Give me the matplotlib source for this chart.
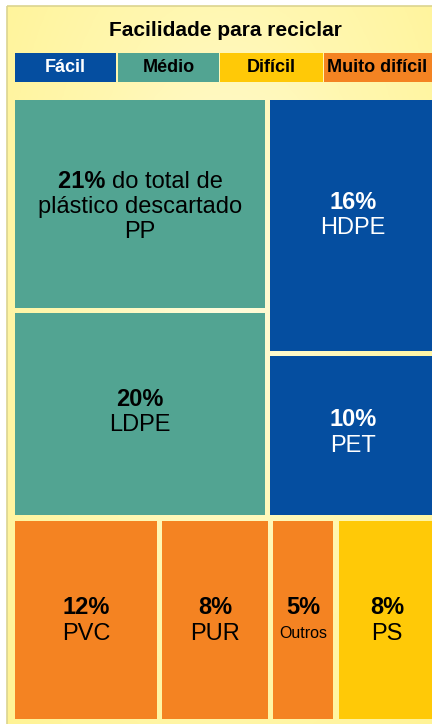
import numpy as np
import matplotlib
matplotlib.use("Agg")
import matplotlib.pyplot as plt
from matplotlib.patches import Rectangle
from matplotlib.colors import LinearSegmentedColormap

plt.rcParams['font.family'] = ['Liberation Sans', 'DejaVu Sans']

# ---------------- data ----------------
title = "Facilidade para reciclar"
levels = ["Fácil", "Médio", "Difícil", "Muito difícil"]
level_colors = ["#054EA0", "#52A492", "#FFC907", "#F48322"]
level_text = ["white", "black", "black", "black"]

names = ["PP", "LDPE", "HDPE", "PET", "PVC", "PUR", "Outros", "PS"]
shares = [21, 20, 16, 10, 12, 8, 5, 8]                       # printed labels (%)
areas = [20.5, 19.9, 16.4, 10.5, 11.3, 8.5, 5.0, 7.8]        # tile areas
level_of = [1, 1, 0, 0, 3, 3, 3, 2]
pp_note = "do total de\nplástico descartado"

# groups of the treemap layout (indexes into the lists above)
top_left = [0, 1]
top_right = [2, 3]
bottom_row = [4, 5, 6, 7]

# label vertical nudges (style)
label_dy = [3, -2, -10, -3, 1, 1, 1, 1]

# ---------------- figure ----------------
W, H = 432, 724
fig = plt.figure(figsize=(W / 100, H / 100), dpi=100)
ax = fig.add_axes([0, 0, 1, 1])
ax.set_xlim(0, W)
ax.set_ylim(H, 0)
ax.axis("off")
fig.patch.set_facecolor("white")

# panel with radial gradient
px0, py0, px1, py1 = 7, 6, 443, 732
yy, xx = np.mgrid[0:200, 0:200]
cx, cy = 100, 80
r = np.sqrt(((xx - cx) / 100) ** 2 + ((yy - cy) / 120) ** 2)
r = np.clip(r / r.max(), 0, 1)
cmap = LinearSegmentedColormap.from_list("bg", ["#FFFCDD", "#FFF7B0", "#FFF394"])
ax.imshow(r, cmap=cmap, extent=[px0, px1, py1, py0], aspect="auto", zorder=0,
          interpolation="bilinear")
ax.add_patch(Rectangle((px0, py0), px1 - px0, py1 - py0, fill=False,
                       edgecolor="#DCD490", linewidth=1.2, zorder=1))
ax.set_xlim(0, W)
ax.set_ylim(H, 0)

# title
ax.text(225, 30, title, ha="center", va="center", fontsize=15,
        fontweight="bold", color="black", zorder=5)

# legend
leg_edges = [(15, 116), (118, 219), (220, 323), (324, 440)]
leg_text_x = [65.5, 168.5, 271.5, 377]
for (a, b), lab, col, tc, tx in zip(leg_edges, levels, level_colors, level_text, leg_text_x):
    ax.add_patch(Rectangle((a, 53), b - a, 29, facecolor=col, edgecolor="none", zorder=2))
    ax.text(tx, 68, lab, ha="center", va="center", fontsize=13, fontweight="bold",
            color=tc, zorder=5)

# ---------------- treemap layout ----------------
gap = 5.5
hg = gap / 2
rx0, ry0, rx1, ry1 = 15 - hg, 100 - hg, 437.75, 719 + hg
total = sum(areas)
top_sum = sum(areas[i] for i in top_left + top_right)
y_split = ry0 + (ry1 - ry0) * top_sum / total
left_sum = sum(areas[i] for i in top_left)
x_split = rx0 + (rx1 - rx0) * left_sum / top_sum

rects = {}
y = ry0
for i in top_left:
    h = (y_split - ry0) * areas[i] / left_sum
    rects[i] = (rx0, y, x_split, y + h)
    y += h
right_sum = sum(areas[i] for i in top_right)
y = ry0
for i in top_right:
    h = (y_split - ry0) * areas[i] / right_sum
    rects[i] = (x_split, y, rx1, y + h)
    y += h
bot_sum = sum(areas[i] for i in bottom_row)
x = rx0
for i in bottom_row:
    w = (rx1 - rx0) * areas[i] / bot_sum
    rects[i] = (x, y_split, x + w, ry1)
    x += w

renderer = fig.canvas.get_renderer()
FS = 17

for i, (a, b, c, d) in rects.items():
    col = level_colors[level_of[i]]
    tc = level_text[level_of[i]]
    ax.add_patch(Rectangle((a + hg, b + hg), (c - a) - gap, (d - b) - gap,
                           facecolor=col, edgecolor="none", zorder=2))
    mx = (a + c) / 2
    my = (b + d) / 2 + label_dy[i]
    name_fs = 11.5 if names[i] == "Outros" else FS
    pct = f"{shares[i]}%"
    if i == 0:
        line = 25
        l1y = my - line
        t_b = ax.text(0, l1y, pct + " ", fontsize=FS, fontweight="bold",
                      ha="left", va="center", color=tc, zorder=5)
        note_lines = pp_note.split("\n")
        t_r = ax.text(0, l1y, note_lines[0], fontsize=FS, ha="left", va="center",
                      color=tc, zorder=5)
        inv = ax.transData.inverted()

        def wdata(t):
            bb = t.get_window_extent(renderer)
            p0 = inv.transform((bb.x0, bb.y0))
            p1 = inv.transform((bb.x1, bb.y0))
            return p1[0] - p0[0]
        wb = wdata(t_b)
        wr = wdata(t_r)
        start = mx - (wb + wr) / 2
        t_b.set_x(start)
        t_r.set_x(start + wb)
        ax.text(mx, my, note_lines[1], fontsize=FS, ha="center", va="center",
                color=tc, zorder=5)
        ax.text(mx, my + line, names[i], fontsize=FS, ha="center", va="center",
                color=tc, zorder=5)
    else:
        ax.text(mx, my - 13, pct, fontsize=FS, fontweight="bold", ha="center",
                va="center", color=tc, zorder=5)
        ax.text(mx, my + 13, names[i], fontsize=name_fs, ha="center", va="center",
                color=tc, zorder=5)

fig.savefig("out.png", dpi=100)
